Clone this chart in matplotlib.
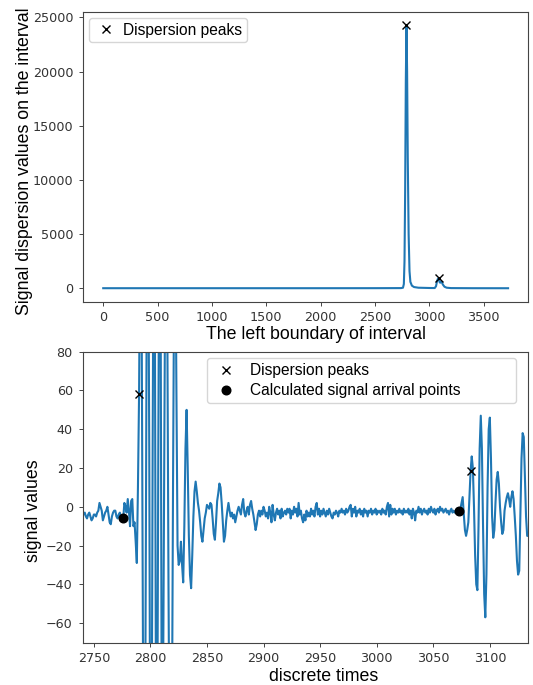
import matplotlib
matplotlib.use('Agg')
import matplotlib.pyplot as plt

# ---------------- data: top chart (dispersion over sliding interval) ----------------
top_x = [0, 1000, 2000, 2500, 2740, 2758, 2766, 2772, 2778, 2784, 2790, 2796, 2802,
         2810, 2818, 2826, 2840, 2860, 2900, 3000, 3050, 3062, 3072, 3080, 3087,
         3094, 3100, 3108, 3115, 3125, 3140, 3160, 3200, 3400, 3725]
top_y = [15, 15, 15, 18, 25, 60, 400, 2500, 9000, 19000, 24300, 20000, 12000,
         5000, 1600, 600, 250, 120, 60, 35, 30, 200, 700, 900, 920,
         600, 520, 640, 580, 350, 150, 60, 25, 15, 12]
top_peak_x = [2790, 3087]
top_peak_y = [24300, 920]

# ---------------- data: bottom chart (signal fragment) ----------------
signal_start = 2740
signal_values = [
    -3, -4, -3, -5, -6, -4, -3, -5, -7, -6,          # 2740
    -4, -4, -5, -3, -2, 2, 0, -2, -7, -5,            # 2750
    -3, -2, 0, -4, -8, -9, -5, -3, -2, -2,           # 2760
    -5, -6, -4, -3, -5, -6, -6, 2, 0, -3,            # 2770
    4, -2, -10, 3, 4, -10, -8, -18, -29, 10,         # 2780
    58, 150, 140, 0, -160, -170, -20, 150, 160, 30,  # 2790
    -170, -150, 30, 180, 90, -120, -140, 30, 170, 120,  # 2800
    -110, -120, 0, 110, 160, 90, -40, -140, -170, -120,  # 2810
    10, 120, 150, 60, -20, -30, -28, -18, -30, -39,  # 2820
    -10, 30, 50, 20, -15, -35, -42, -25, -5, 8,      # 2830
    13, 8, 2, -2, -8, -15, -18, -12, -6, -3,         # 2840
    1, 0, -1, 2, 1, -6, -14, -17, -8, 3,             # 2850
    7, 12, 10, 2, -8, -18, -15, -7, -2, 2,           # 2860
    -2, -5, -3, -6, -4, -8, -5, -2, 0, -2,           # 2870
    -4, 1, 4, -3, -5, -2, 0, -4, 1, 3,               # 2880
    -1, -4, -8, -12, -9, -4, -2, -5, -2, -4,         # 2890
    0, -2, -5, -3, -6, 0, -3, -8, 1, -4,             # 2900
    -7, -3, -1, -4, -2, -6, -1, -5, -3, -2,          # 2910
    -4, -1, -3, -1, -6, -2, -4, 0, -3, -1,           # 2920
    -5, 2, -4, -2, -6, -8, -4, -7, -2, -5,           # 2930
    -3, -5, -1, -4, -2, -5, 0, 2, -4, -1,            # 2940
    -5, -2, -4, -1, -3, -5, -2, -4, -1, -3,          # 2950
    -5, -6, -3, -4, -2, -3, -5, -2, -3, -1,          # 2960
    -3, -2, -4, -1, -3, -2, 0, 1, -5, -1,            # 2970
    -3, 0, -5, -2, -3, -1, -4, -2, -5, -1,           # 2980
    -3, -2, -5, -2, -3, -1, -4, -2, -3, -1,          # 2990
    -4, -2, -3, -2, -4, -1, -3, -2, -4, 0,           # 3000
    2, -5, 1, -4, -1, -3, -1, -4, -2, -3,            # 3010
    -1, -3, -2, -4, -1, -3, -2, -3, -1, -4,          # 3020
    -2, -6, -1, -3, -7, -2, -3, 0, -3, -1,           # 3030
    -4, -2, -1, -3, -2, -4, -1, -3, 0, -2,           # 3040
    -3, -1, -4, -2, -1, -3, 0, -2, -1, -3,           # 3050
    -2, -1, -3, -2, -4, -2, -1, -3, -2, -3,          # 3060
    -2, -1, -2, -2, -1, 2, 5, -4, -12, -15,          # 3070
    -12, -8, 5, 18.5, 26, 20, 0, -25, -40, -43,      # 3080
    -10, 30, 47, 30, -10, -45, -57, -35, 10, 40,     # 3090
    46, 25, -5, -16, -12, 2, 14, 18, 12, 0,          # 3100
    -8, -14, -12, -2, 2, 5, 7, 4, 0, 5,              # 3110
    8, 4, -5, -15, -28, -35, -33, -5, 25, 38,        # 3120
    36, 15, -5, -15, -15,                            # 3130
]
signal_x = list(range(signal_start, signal_start + len(signal_values)))
peak_x = [2790, 3083]
peak_y = [58, 18.5]
arrival_x = [2776, 3073]
arrival_y = [-6, -2]

top_xticks = [0, 500, 1000, 1500, 2000, 2500, 3000, 3500]
top_yticks = [0, 5000, 10000, 15000, 20000, 25000]
bot_xticks = [2750, 2800, 2850, 2900, 2950, 3000, 3050, 3100]
bot_yticks = [-60, -40, -20, 0, 20, 40, 60, 80]

# ---------------- styling ----------------
W, H = 533, 685
LINE_C = '#1f77b4'
LABEL_FONT = ['Liberation Sans', 'DejaVu Sans']
TICK_FONT = ['DejaVu Sans']
TICK_C = '#333333'
SPINE_C = '#444444'

fig = plt.figure(figsize=(W / 100, H / 100), dpi=100)
ax1 = fig.add_axes([83 / W, 1 - 301.7 / H, (528.3 - 83) / W, 290 / H])
ax2 = fig.add_axes([82.5 / W, 1 - 642.5 / H, (528.3 - 82.5) / W, 290.8 / H])


def style(ax):
    for s in ax.spines.values():
        s.set_color(SPINE_C)
        s.set_linewidth(0.8)
    ax.tick_params(axis='both', length=2.6, width=0.7, color=SPINE_C,
                   labelsize=9.2, labelcolor=TICK_C, pad=4.4)
    for lab in ax.get_xticklabels() + ax.get_yticklabels():
        lab.set_family(TICK_FONT)


# top chart
ax1.plot(top_x, top_y, color=LINE_C, lw=1.5)
ax1.plot(top_peak_x, top_peak_y, 'x', color='black', ms=5.5, mew=1.0,
         label='Dispersion peaks')
ax1.set_xlim(-186, 3911)
ax1.set_ylim(-1230, 25520)
ax1.set_xticks(top_xticks)
ax1.set_yticks(top_yticks)
style(ax1)
ax1.set_xlabel('The left boundary of interval', family=LABEL_FONT,
               fontsize=12.8, color='black')
ax1.set_ylabel('Signal dispersion values on the interval', family=LABEL_FONT,
               fontsize=12.8, color='black')
ax1.xaxis.set_label_coords(0.523, -0.083)
ax1.yaxis.set_label_coords(-0.112, 0.485)
ax1.legend(loc='upper left', prop={'family': LABEL_FONT, 'size': 11.2},
           handlelength=1.5, handletextpad=0.4, borderpad=0.3,
           borderaxespad=0.4)

# bottom chart
ax2.plot(signal_x, signal_values, color=LINE_C, lw=1.5)
ax2.plot(peak_x, peak_y, 'x', color='black', ms=5.5, mew=1.0,
         label='Dispersion peaks')
ax2.plot(arrival_x, arrival_y, 'o', color='black', ms=6.2,
         label='Calculated signal arrival points')
ax2.set_xlim(2740, 3134)
ax2.set_ylim(-70, 80)
ax2.set_xticks(bot_xticks)
ax2.set_yticks(bot_yticks)
style(ax2)
ax2.set_xlabel('discrete times', family=LABEL_FONT, fontsize=12.8, color='black')
ax2.set_ylabel('signal values', family=LABEL_FONT, fontsize=12.8, color='black')
ax2.xaxis.set_label_coords(0.540, -0.088)
ax2.yaxis.set_label_coords(-0.090, 0.453)
ax2.legend(loc='upper left', bbox_to_anchor=(0.280, 0.5, 0.6935, 0.477),
           mode='expand', borderaxespad=0,
           prop={'family': LABEL_FONT, 'size': 11.2},
           handlelength=1.8, handletextpad=0.65, borderpad=0.3,
           labelspacing=0.35)

fig.savefig('out.png', dpi=100)
